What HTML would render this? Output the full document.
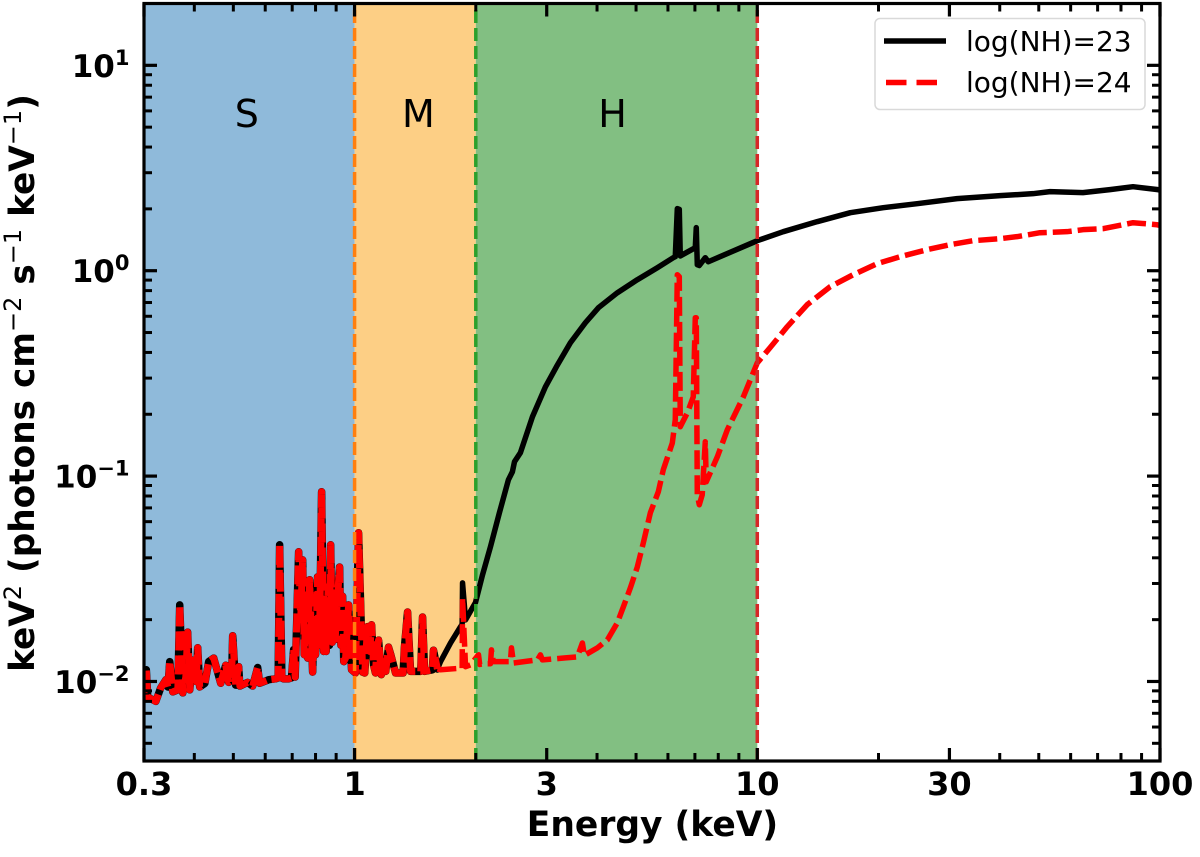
<!DOCTYPE html>
<html lang="en">
<head>
<meta charset="utf-8">
<title>Spectrum by absorption column</title>
<style>
html,body{margin:0;padding:0;background:#fff;width:1200px;height:857px;overflow:hidden}
svg{display:block}
text{font-family:"DejaVu Sans","Liberation Sans",sans-serif}
</style>
</head>
<body>
<svg id="chart" xmlns="http://www.w3.org/2000/svg" width="1200" height="857" viewBox="0 0 1200 857">
  <defs><clipPath id="plot-clip"><rect x="144" y="3.5" width="1016" height="757.5"></rect></clipPath></defs>
  <g id="regions"></g>
  <g id="series" clip-path="url(#plot-clip)"></g>
  <g id="bounds"></g>
  <g id="ticks"></g>
  <rect x="144" y="3.5" width="1016" height="757.5" fill="none" stroke="#000" stroke-width="3.2"></rect>
  <g id="xlabels" font-weight="700" font-size="32" text-anchor="middle"></g>
  <g id="ylabels" font-weight="700" font-size="31" text-anchor="end"></g>
  <text x="652.5" y="836" font-size="34.5" font-weight="700" text-anchor="middle">Energy (keV)</text>
  <text transform="translate(34,383) rotate(-90)" font-size="34.3" font-weight="700" text-anchor="middle">keV<tspan font-size="24" font-weight="400" dy="-13">2</tspan><tspan dy="13"> (photons cm</tspan><tspan font-size="24" font-weight="400" dy="-13">−2</tspan><tspan dy="13"> s</tspan><tspan font-size="24" font-weight="400" dy="-13">−1</tspan><tspan dy="13"> keV</tspan><tspan font-size="24" font-weight="400" dy="-13">−1</tspan><tspan dy="13">)</tspan></text>
  <g>
    <rect x="875" y="18.5" width="270" height="91" rx="5" fill="#fff" fill-opacity="0.9" stroke="#d9d9d9" stroke-width="1.5"></rect>
    <line x1="884" y1="41" x2="946" y2="41" stroke="#000" stroke-width="5.5"></line>
    <line x1="886" y1="82.5" x2="938" y2="82.5" stroke="#f00" stroke-width="5.5" stroke-dasharray="20.5 10"></line>
    <text x="966" y="51" font-size="28">log(NH)=23</text>
    <text x="966" y="92" font-size="28">log(NH)=24</text>
  </g>
</svg>
<script>
// Axis limits
const xLimits = [0.3, 100];
const yLimits = [0.0041, 20];

// Tick values and labels
const xMajorTicks = [0.3, 1, 3, 10, 30, 100];
const xTickLabels = ["0.3", "1", "3", "10", "30", "100"];
const xMinorTicks = [0.4, 0.5, 0.6, 0.7, 0.8, 0.9, 2, 4, 5, 6, 7, 8, 9, 20, 40, 50, 60, 70, 80, 90];
const yMajorTicks = [0.01, 0.1, 1, 10];
const yTickExponents = ["−2", "−1", "0", "1"];
const yMinorTicks = [0.005, 0.006, 0.007, 0.008, 0.009, 0.02, 0.03, 0.04, 0.05, 0.06, 0.07, 0.08, 0.09, 0.2, 0.3, 0.4, 0.5, 0.6, 0.7, 0.8, 0.9, 2, 3, 4, 5, 6, 7, 8, 9];

// Energy bands (keV)
const bandNames = ["S", "M", "H"];
const bandEdges = [0.3, 1, 2, 10];
const bandLabelEnergies = [0.54, 1.44, 4.37];
const bandLabelFlux = 5;

// Emission-line spectrum shared by both curves below ~1.6 keV
const softEnergy = [0.300,0.304,0.3065,0.321,0.330,0.340,0.344,0.3476,0.3536,0.364,0.368,0.3744,0.381,0.385,0.3897,0.394,0.3986,0.404,0.4078,0.4125,0.425,0.4343,0.4469,0.4652,0.4786,0.4868,0.495,0.4981,0.5067,0.5154,0.519,0.5425,0.5584,0.5746,0.5812,0.6121,0.6368,0.646,0.6515,0.66,0.6666,0.686,0.697,0.7058,0.712,0.7263,0.735,0.743,0.75,0.757,0.765,0.7734,0.7868,0.793,0.80,0.8093,0.818,0.8282,0.8378,0.845,0.85,0.86,0.866,0.872,0.88,0.8869,0.895,0.905,0.9179,0.925,0.9337,0.94,0.95,0.9663,0.983,1.005,1.023,1.047,1.06,1.077,1.09,1.102,1.115,1.127,1.135,1.147,1.165,1.18,1.195,1.214,1.23,1.264,1.32,1.33,1.354,1.377,1.46,1.475,1.492,1.56,1.57,1.606];
const softFlux = [0.0088,0.0114,0.0084,0.0080,0.0093,0.0102,0.0094,0.0125,0.0089,0.0091,0.0236,0.0088,0.0105,0.0174,0.0091,0.0115,0.0127,0.0100,0.0146,0.0094,0.0098,0.0125,0.0130,0.0098,0.0120,0.0099,0.0102,0.0167,0.0096,0.0118,0.0095,0.0099,0.0095,0.0117,0.0098,0.0102,0.0103,0.0104,0.0463,0.0104,0.0103,0.0103,0.0104,0.0143,0.0105,0.0428,0.0200,0.0391,0.0135,0.0220,0.0130,0.0313,0.0111,0.0200,0.0135,0.0323,0.0150,0.0839,0.0140,0.0251,0.0140,0.0290,0.0150,0.0463,0.0155,0.0270,0.0160,0.0240,0.0361,0.0150,0.0260,0.0125,0.0130,0.0236,0.0114,0.0110,0.0530,0.0111,0.0110,0.0185,0.0140,0.0189,0.0120,0.0110,0.0140,0.0159,0.0108,0.0125,0.0112,0.0147,0.0135,0.0110,0.0110,0.0147,0.0218,0.0112,0.0112,0.0206,0.0112,0.0114,0.0142,0.0115];

// log(NH)=23 continuation
const energy23 = [1.635,1.731,1.832,1.850,1.854,1.886,1.996,2.078,2.175,2.289,2.410,2.466,2.495,2.581,2.765,2.978,3.172,3.435,3.742,4.031,4.492,5.036,5.646,6.186,6.257,6.330,6.402,6.438,7.015,7.055,7.096,7.178,7.427,7.556,10,11.6,14.08,17.02,20.54,24.94,31.34,40.09,48.37,53.33,64.37,75.1,85.7,98.8,100];
const flux23 = [0.0125,0.0154,0.01845,0.0190,0.0302,0.01995,0.0242,0.0330,0.0453,0.0663,0.0959,0.105,0.1174,0.130,0.1945,0.272,0.341,0.446,0.558,0.660,0.781,0.904,1.034,1.157,1.17,2.005,1.99,1.18,1.294,1.62,1.07,1.06,1.157,1.106,1.40,1.549,1.733,1.917,2.027,2.12,2.243,2.319,2.372,2.426,2.399,2.481,2.565,2.481,2.47];

// log(NH)=24 continuation
const energy24 = [1.635,1.832,1.85,1.854,1.886,1.940,2.031,2.045,2.089,2.175,2.187,2.210,2.303,2.438,2.452,2.481,2.845,2.894,2.927,3.337,3.575,3.679,3.721,4.008,4.244,4.492,4.650,4.84,5.036,5.212,5.426,5.679,5.842,6.152,6.257,6.33,6.402,6.438,6.703,6.935,7.015,7.055,7.096,7.178,7.30,7.427,7.47,7.956,8.425,9.233,10,10.76,11.87,13.30,15.17,17.30,19.84,22.64,26.40,30.13,34.34,40.09,44.15,50.35,58.75,64.37,72.15,85.7,98.2,100];
const flux24 = [0.0114,0.0116,0.0116,0.0255,0.0118,0.01205,0.0135,0.0121,0.0122,0.0122,0.01425,0.0125,0.0125,0.0125,0.01458,0.0123,0.01274,0.01348,0.01274,0.01303,0.01318,0.0154,0.0134,0.01458,0.01595,0.0193,0.02308,0.02857,0.0361,0.0473,0.0663,0.0839,0.1073,0.145,0.188,0.956,0.935,0.174,0.203,0.243,0.590,0.590,0.0811,0.0725,0.0811,0.147,0.0938,0.124,0.168,0.243,0.356,0.422,0.534,0.683,0.836,0.956,1.082,1.170,1.266,1.339,1.400,1.432,1.465,1.531,1.549,1.584,1.602,1.713,1.675,1.66];

// Axis functions
const plotLeft = 144, plotRight = 1160, plotTop = 3.5, plotBottom = 761;
function xScale(v) {
  return plotLeft + (Math.log10(v) - Math.log10(xLimits[0])) / (Math.log10(xLimits[1]) - Math.log10(xLimits[0])) * (plotRight - plotLeft);
}
function yScale(v) {
  return plotBottom - (Math.log10(v) - Math.log10(yLimits[0])) / (Math.log10(yLimits[1]) - Math.log10(yLimits[0])) * (plotBottom - plotTop);
}

const NS = "http://www.w3.org/2000/svg";
function make(tag, parent, attrs) {
  const el = document.createElementNS(NS, tag);
  for (const k in attrs) el.setAttribute(k, attrs[k]);
  parent.appendChild(el);
  return el;
}
function pathFrom(xs, ys) {
  return xs.map((v, i) => (i ? "L" : "M") + xScale(v).toFixed(2) + " " + yScale(ys[i]).toFixed(2)).join(" ");
}

// Energy bands
const regions = document.getElementById("regions");
const bandFills = ["#8fbada", "#fdcf85", "#82bf82"];
bandNames.forEach((name, i) => {
  const band = make("rect", regions, {
    x: xScale(bandEdges[i]), y: plotTop,
    width: xScale(bandEdges[i + 1]) - xScale(bandEdges[i]),
    height: plotBottom - plotTop, fill: bandFills[i]
  });
  
  
  const label = make("text", regions, {
    x: xScale(bandLabelEnergies[i]), y: yScale(bandLabelFlux),
    "font-size": 38, "text-anchor": "middle", fill: "#000"
  });
  label.textContent = name;
  
  
});

// Series: the line forest is heavier than the smooth continuum
const series = document.getElementById("series");
const softLast = softEnergy.length - 1;
const hardStart23E = [softEnergy[softLast]].concat(energy23);
const hardStart23F = [softFlux[softLast]].concat(flux23);
const hardStart24E = [softEnergy[softLast]].concat(energy24);
const hardStart24F = [softFlux[softLast]].concat(flux24);

const soft23 = make("path", series, {
  d: pathFrom(softEnergy, softFlux),
  fill: "none", stroke: "#000", "stroke-width": 7.5, "stroke-linejoin": "round", "stroke-linecap": "round"
});


const hard23 = make("path", series, {
  d: pathFrom(hardStart23E, hardStart23F),
  fill: "none", stroke: "#000", "stroke-width": 5.5, "stroke-linejoin": "round", "stroke-linecap": "round"
});


const soft24 = make("path", series, {
  d: pathFrom(softEnergy, softFlux),
  fill: "none", stroke: "#f00", "stroke-width": 7, "stroke-linejoin": "round",
  "stroke-dasharray": "19 5"
});


const hard24 = make("path", series, {
  d: pathFrom(hardStart24E, hardStart24F),
  fill: "none", stroke: "#f00", "stroke-width": 5.5, "stroke-linejoin": "round",
  "stroke-dasharray": "19 6"
});



// Band boundaries
const bounds = document.getElementById("bounds");
const boundColors = ["#ff7f0e", "#2ca02c", "#d62728"];
bandEdges.slice(1).forEach((edge, i) => {
  const ln = make("line", bounds, {
    x1: xScale(edge), x2: xScale(edge), y1: plotBottom, y2: plotTop,
    stroke: boundColors[i], "stroke-width": 3.5, "stroke-dasharray": "13 5"
  });
  
  
});

// Ticks on all four sides, pointing inward
const ticks = document.getElementById("ticks");
function xTick(v, len, w) {
  const x = xScale(v);
  [[plotBottom, plotBottom - len], [plotTop, plotTop + len]].forEach(p => {
    const t = make("line", ticks, { x1: x, x2: x, y1: p[0], y2: p[1], stroke: "#000", "stroke-width": w });
    
    
  });
}
function yTick(v, len, w) {
  const y = yScale(v);
  [[plotLeft, plotLeft + len], [plotRight, plotRight - len]].forEach(p => {
    const t = make("line", ticks, { y1: y, y2: y, x1: p[0], x2: p[1], stroke: "#000", "stroke-width": w });
    
    
  });
}
xMajorTicks.forEach(v => xTick(v, 13, 3.2));
xMinorTicks.forEach(v => xTick(v, 8, 3));
yMajorTicks.forEach(v => yTick(v, 13, 3.2));
yMinorTicks.forEach(v => yTick(v, 8, 3));

// Tick labels
const xlabels = document.getElementById("xlabels");
xMajorTicks.forEach((v, i) => {
  const t = make("text", xlabels, { x: xScale(v), y: 795 });
  t.textContent = xTickLabels[i];
  
  
});
const ylabels = document.getElementById("ylabels");
yMajorTicks.forEach((v, i) => {
  const t = make("text", ylabels, { x: 129.5, y: yScale(v) + 11.5 });
  const base = make("tspan", t, {});
  base.textContent = "10";
  const sup = make("tspan", t, { dy: -12, "font-size": 21 });
  sup.textContent = yTickExponents[i];
  
  
});
</script>
</body>
</html>
